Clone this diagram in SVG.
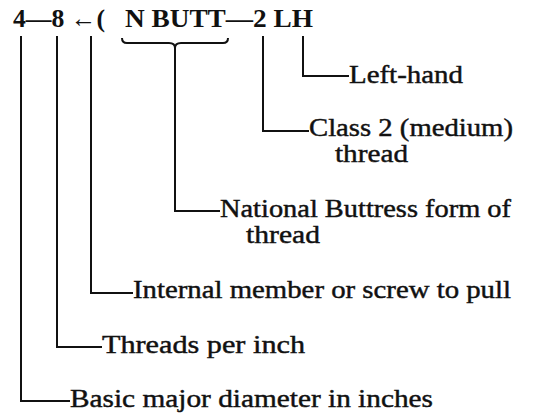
<svg xmlns="http://www.w3.org/2000/svg" width="541" height="414" viewBox="0 0 541 414">
<style>
.t{font-family:"Liberation Serif","Times New Roman",serif;fill:#111;}
.top{font-size:26px;font-weight:bold;}
.lab{font-size:26px;stroke:#111;stroke-width:0.45;}
.ln{stroke:#111;stroke-width:2;fill:none;}
</style>
<rect width="541" height="414" fill="#fff"/>
<g id="designation">
<text class="t top" x="13" y="27" textLength="92" lengthAdjust="spacingAndGlyphs">4—8 ←(</text>
<text class="t top" x="125" y="27" textLength="188" lengthAdjust="spacingAndGlyphs">N BUTT—2 LH</text>
</g>
<g id="connectors">
<path class="ln" d="M21,36 V401 H70"/>
<path class="ln" d="M57,36 V347 H102"/>
<path class="ln" d="M91,36 V293 H133"/>
<path class="ln" d="M122,38 Q122,43 127,43 L169,43 Q175,43 175,48 Q175,43 181,43 L223,43 Q228,43 228,38"/>
<path class="ln" d="M175,48 V211 H220"/>
<path class="ln" d="M263,36 V131 H309"/>
<path class="ln" d="M303,36 V76 H349"/>
</g>
<g id="left-hand">
<text class="t lab" x="349" y="83" textLength="114" lengthAdjust="spacingAndGlyphs">Left-hand</text>
</g>
<g id="class2">
<text class="t lab" x="309" y="136" textLength="204" lengthAdjust="spacingAndGlyphs">Class 2 (medium)</text>
<text class="t lab" x="335" y="162" textLength="73" lengthAdjust="spacingAndGlyphs">thread</text>
</g>
<g id="national-buttress">
<text class="t lab" x="220" y="217" textLength="291" lengthAdjust="spacingAndGlyphs">National Buttress form of</text>
<text class="t lab" x="246" y="243" textLength="74" lengthAdjust="spacingAndGlyphs">thread</text>
</g>
<g id="internal">
<text class="t lab" x="133" y="298" textLength="378" lengthAdjust="spacingAndGlyphs">Internal member or screw to pull</text>
</g>
<g id="threads-per-inch">
<text class="t lab" x="102" y="353" textLength="203" lengthAdjust="spacingAndGlyphs">Threads per inch</text>
</g>
<g id="basic-diameter">
<text class="t lab" x="70" y="407" textLength="363" lengthAdjust="spacingAndGlyphs">Basic major diameter in inches</text>
</g>
</svg>
